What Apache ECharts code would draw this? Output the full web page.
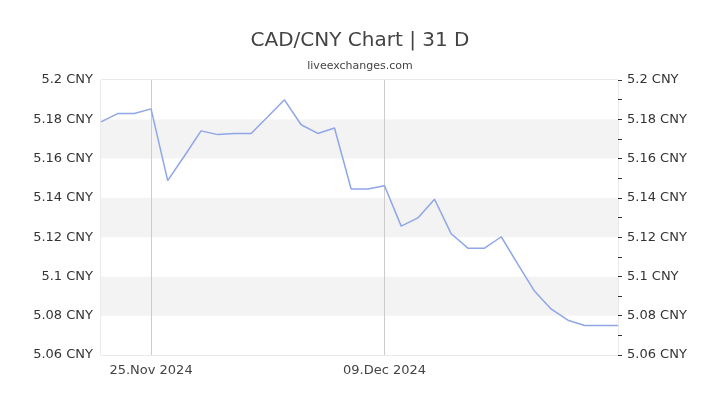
<!DOCTYPE html>
<html>
<head>
<meta charset="utf-8">
<script src="https://cdn.jsdelivr.net/npm/echarts@6/dist/echarts.min.js"></script>
<style>html,body{margin:0;padding:0;background:#fff;}#c{width:720px;height:405px;}</style>
</head>
<body>
<div id="c"></div>
<script>
var dates = ['22.Nov 2024','23.Nov 2024','24.Nov 2024','25.Nov 2024','26.Nov 2024','27.Nov 2024','28.Nov 2024','29.Nov 2024','30.Nov 2024',
  '01.Dec 2024','02.Dec 2024','03.Dec 2024','04.Dec 2024','05.Dec 2024','06.Dec 2024','07.Dec 2024','08.Dec 2024','09.Dec 2024',
  '10.Dec 2024','11.Dec 2024','12.Dec 2024','13.Dec 2024','14.Dec 2024','15.Dec 2024','16.Dec 2024','17.Dec 2024','18.Dec 2024',
  '19.Dec 2024','20.Dec 2024','21.Dec 2024','22.Dec 2024','23.Dec 2024'];
var rates = [5.1787,5.1829,5.1829,5.1853,5.1488,5.1613,5.1741,5.1722,5.1728,5.1728,5.1813,5.1899,
  5.1772,5.1728,5.1756,5.1445,5.1445,5.1462,5.1256,5.1298,5.1393,5.1217,5.1144,5.1144,5.1202,
  5.1061,5.0924,5.0833,5.0777,5.0750,5.0750,5.0750];
var labeledDates = ['25.Nov 2024','09.Dec 2024'];
var yMin = 5.06, yMax = 5.2, yStep = 0.02, yMinorStep = 0.01;
var titleText = 'CAD/CNY Chart | 31 D';
var subText = 'liveexchanges.com';

function fmt(v){ return parseFloat(v.toFixed(2)) + ' CNY'; }
var showIdx = function(i){ return labeledDates.indexOf(dates[i]) >= 0; };
var chart = echarts.init(document.getElementById('c'));
chart.setOption({
  animation: false,
  textStyle: { fontFamily: 'DejaVu Sans' },
  title: {
    text: titleText, subtext: subText, left: 'center', top: 26, itemGap: 10,
    textStyle: { fontFamily: 'DejaVu Sans', fontSize: 20, fontWeight: 'normal', color: '#444' },
    subtextStyle: { fontFamily: 'DejaVu Sans', fontSize: 11, color: '#444' }
  },
  grid: { left: 101, right: 102, top: 80, bottom: 50, show: true, borderColor: '#d4d4d4', borderWidth: 1 },
  xAxis: {
    type: 'category', data: dates, boundaryGap: false,
    axisLine: { show: false }, axisTick: { show: false },
    axisLabel: { interval: function(i){ return showIdx(i); }, color: '#444', fontSize: 13, margin: 9 },
    splitLine: { show: true, interval: function(i){ return showIdx(i); }, lineStyle: { color: '#ccc', width: 1 } }
  },
  yAxis: [{
    type: 'value', min: yMin, max: yMax, interval: yStep, position: 'left',
    axisLine: { show: false }, axisTick: { show: false },
    axisLabel: { formatter: fmt, color: '#333', fontSize: 13, margin: 8 },
    splitLine: { show: false },
    splitArea: { show: true, areaStyle: { color: ['#ffffff', '#f3f3f3'] } }
  }, {
    type: 'value', min: yMin, max: yMax, interval: yMinorStep, position: 'right',
    axisLine: { show: false },
    axisTick: { show: true, length: 4, lineStyle: { color: '#333' } },
    axisLabel: { formatter: function(v){ return (Math.round(v*100) % 2 === 0) ? fmt(v) : ''; }, color: '#333', fontSize: 13, margin: 9 },
    splitLine: { show: false }
  }],
  series: [{
    type: 'line', data: rates, yAxisIndex: 0, showSymbol: false, symbol: 'none',
    lineStyle: { color: '#8fa6e8', width: 1.5 }
  }]
});
</script>
</body>
</html>
